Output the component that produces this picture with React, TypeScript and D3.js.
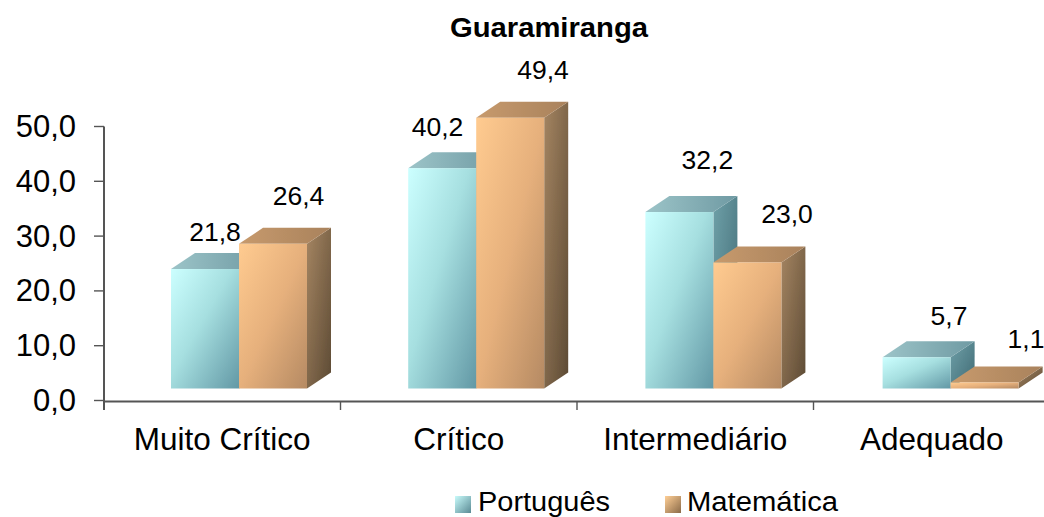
import React from "react";
import * as d3 from "d3";

const title = "Guaramiranga";
const categories = ["Muito Crítico", "Crítico", "Intermediário", "Adequado"];
const portugues = [21.8, 40.2, 32.2, 5.7];
const matematica = [26.4, 49.4, 23.0, 1.1];
const yTicks = [0, 10, 20, 30, 40, 50];
const seriesNames = ["Português", "Matemática"];

const W = 1044, H = 517;
const fmt = (v: number) => v.toFixed(1).replace(".", ",");
const FONT = "'Liberation Sans', Arial, sans-serif";

const y = d3.scaleLinear().domain([0, 50]).range([400.5, 126.5]);
const x = d3.scaleBand<string>().domain(categories).range([104, 1050]).paddingInner(0).paddingOuter(0);
const series = d3.scaleBand<string>().domain(seriesNames).range([0, 136]);

const floorDrop = 12; // front face of the 3D bars sits above the axis
const depthX = 24, depthY = 16;
const barInset = 67;
const barStart = (i: number) => x(categories[i])! + barInset + i * 0.7;

// offset of each data label from the top centre of its bar
const labelOffsets = [
  [[10, -28], [25.5, -39]],
  [[-4.7, -32], [32.8, -39]],
  [[28, -43], [39.6, -39.5]],
  [[32.4, -32], [41.4, -34.5]],
];

const ids = ["p", "m"];

function Bar({ px, w, v, s }: { px: number; w: number; v: number; s: number }) {
  const yTop = y(v) - floorDrop;
  const yBot = y(0) - floorDrop;
  const id = ids[s];
  return (
    <g filter="url(#soft)">
      <path d={`M${px + w},${yTop}L${px + w + depthX},${yTop - depthY}L${px + w + depthX},${yBot - depthY}L${px + w},${yBot}Z`} fill={`url(#${id}Side)`} />
      <path d={`M${px},${yTop}L${px + depthX},${yTop - depthY}L${px + w + depthX},${yTop - depthY}L${px + w},${yTop}Z`} fill={`url(#${id}Top)`} />
      <rect x={px} y={yTop} width={w} height={yBot - yTop} fill={`url(#${id}Front)`} />
    </g>
  );
}

function Label({ x: lx, y: ly, size, width, anchor = "middle", weight, children }: any) {
  return (
    <text x={lx} y={ly} fontSize={size} fontFamily={FONT} fontWeight={weight} textAnchor={anchor} fill="#000"
      textLength={width} lengthAdjust={width ? "spacingAndGlyphs" : undefined}>
      {children}
    </text>
  );
}

export default function App() {
  const axisColor = "#555";
  return (
    <svg width={W} height={H} viewBox={`0 0 ${W} ${H}`} style={{ position: "absolute", left: 0, top: 0, background: "#fff" }}>
      <defs>
        <filter id="soft" x="-5%" y="-5%" width="110%" height="110%"><feGaussianBlur stdDeviation="0.6" /></filter>
        <linearGradient id="pFront" x1="0" y1="0" x2="1" y2="1">
          <stop offset="0" stopColor="#ccffff" />
          <stop offset="0.45" stopColor="#a6dfe0" />
          <stop offset="1" stopColor="#6298a5" />
        </linearGradient>
        <linearGradient id="pSide" x1="0" y1="0" x2="1" y2="1">
          <stop offset="0" stopColor="#6fa0a8" />
          <stop offset="1" stopColor="#3f6a74" />
        </linearGradient>
        <linearGradient id="pTop" x1="0" y1="0" x2="1" y2="0">
          <stop offset="0" stopColor="#9cc4c8" />
          <stop offset="1" stopColor="#6f9aa3" />
        </linearGradient>
        <linearGradient id="mFront" x1="0" y1="0" x2="1" y2="1">
          <stop offset="0" stopColor="#ffcb90" />
          <stop offset="0.5" stopColor="#e6b07c" />
          <stop offset="1" stopColor="#b58a63" />
        </linearGradient>
        <linearGradient id="mSide" x1="0" y1="0" x2="1" y2="1">
          <stop offset="0" stopColor="#a58562" />
          <stop offset="1" stopColor="#5c4a34" />
        </linearGradient>
        <linearGradient id="mTop" x1="0" y1="0" x2="1" y2="0">
          <stop offset="0" stopColor="#c79a6d" />
          <stop offset="1" stopColor="#a9825c" />
        </linearGradient>
        <linearGradient id="pKey" x1="0" y1="0" x2="1" y2="1">
          <stop offset="0" stopColor="#c8fbfb" />
          <stop offset="1" stopColor="#5a8a94" />
        </linearGradient>
        <linearGradient id="mKey" x1="0" y1="0" x2="1" y2="1">
          <stop offset="0" stopColor="#ffcf96" />
          <stop offset="1" stopColor="#8a6a48" />
        </linearGradient>
      </defs>

      <Label x={549} y={37} size={28} weight="bold" width={198}>{title}</Label>

      {categories.map((c, i) => {
        const bx = barStart(i);
        return (
          <g key={c}>
            <Bar px={bx} w={series.bandwidth()} v={portugues[i]} s={0} />
            <Bar px={bx + series(seriesNames[1])!} w={series.bandwidth()} v={matematica[i]} s={1} />
          </g>
        );
      })}

      {/* axes */}
      <line x1={104} x2={104} y1={y(50)} y2={410} stroke={axisColor} strokeWidth={2} />
      <line x1={104} x2={W} y1={401.5} y2={401.5} stroke={axisColor} strokeWidth={2} />
      {yTicks.map((t) => (
        <g key={t}>
          <line x1={94} x2={104} y1={y(t)} y2={y(t)} stroke={axisColor} strokeWidth={1.4} />
          <Label x={76} y={y(t) + 10.5} size={31} anchor="end">{fmt(t)}</Label>
        </g>
      ))}
      {categories.map((c) => (
        <line key={c} x1={x(c)!} x2={x(c)!} y1={401} y2={410} stroke={axisColor} strokeWidth={1.4} />
      ))}
      {categories.map((c) => (
        <Label key={c} x={x(c)! + x.bandwidth() / 2} y={449.5} size={31.5}>{c}</Label>
      ))}

      {/* data labels */}
      {categories.map((c, i) =>
        [portugues[i], matematica[i]].map((v, s) => {
          const cx = barStart(i) + series(seriesNames[s])! + series.bandwidth() / 2;
          const [dx, dy] = labelOffsets[i][s];
          return (
            <Label key={s} x={cx + dx} y={y(v) - floorDrop + dy} size={26.5}>
              {fmt(v)}
            </Label>
          );
        })
      )}

      {/* legend */}
      <rect x={455} y={496} width={16} height={17} fill="url(#pKey)" />
      <Label x={478} y={511} size={27} anchor="start" width={132}>{seriesNames[0]}</Label>
      <rect x={665} y={496} width={16} height={17} fill="url(#mKey)" />
      <Label x={687} y={511} size={27} anchor="start" width={151}>{seriesNames[1]}</Label>
    </svg>
  );
}
